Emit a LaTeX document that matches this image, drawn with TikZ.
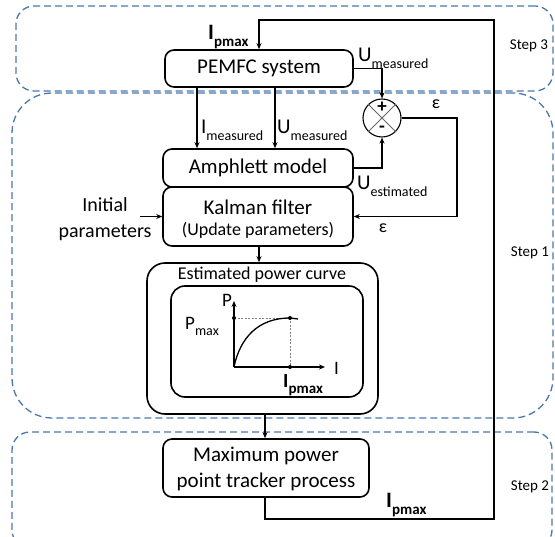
\documentclass[tikz,border=0pt]{standalone}
\usepackage{fontspec}
\setmainfont{Carlito}
\usetikzlibrary{arrows.meta}
\definecolor{stepblue}{HTML}{4A78AC}
\newcommand\subt[1]{\raisebox{-0.3em}{\fontsize{14}{14}\selectfont #1}}
\newcommand\subtb[1]{\raisebox{-0.3em}{\fontsize{15}{15}\selectfont\bfseries #1}}
\begin{document}
\begin{tikzpicture}[x=1pt,y=-1pt,
  blk/.style={draw, line width=1.6pt, rounded corners=9pt, inner sep=0pt},
  stepbox/.style={draw=stepblue, line width=1.3pt, dash pattern=on 7pt off 4pt, inner sep=0pt},
  conn/.style={line width=1.4pt},
  arr/.style={conn, -{Stealth[length=6pt,width=5pt]}},
  big/.style={font=\fontsize{21}{24}\selectfont, inner sep=0pt},
  mid/.style={font=\fontsize{18}{21}\selectfont, inner sep=0pt},
  chartlbl/.style={font=\fontsize{19}{21}\selectfont, inner sep=0pt},
  steplbl/.style={font=\fontsize{15}{18}\selectfont, inner sep=0pt},
  sgn/.style={font=\bfseries\fontsize{19}{19}\selectfont, inner sep=0pt},
  dot/.style={circle, fill, inner sep=0pt, minimum size=4pt},
]
\clip (0,0) rectangle (555,537);
\useasboundingbox (0,0) rectangle (555,537);

% step boxes
\node[stepbox, rounded corners=18pt, minimum width=537pt, minimum height=85pt] (s3) at (284.5,48.5) {};
\node[stepbox, rounded corners=40pt, minimum width=541pt, minimum height=325pt] (s1) at (282.5,255.5) {};
\node[stepbox, rounded corners=18pt, minimum width=540pt, minimum height=116pt] (s2) at (282,490) {};
\node[steplbl] (s3l) at (529,46) {Step 3};
\node[steplbl] (s1l) at (530,253) {Step 1};
\node[steplbl] (s2l) at (530,487) {Step 2};

% blocks
\node[blk, minimum width=188pt, minimum height=37pt, big] (pemfc) at (259,68.5) {PEMFC system};
\node[blk, minimum width=190pt, minimum height=38pt, big] (amph) at (258,168) {Amphlett model};
\node[blk, minimum width=190pt, minimum height=59pt] (kal) at (258,216.5) {};
\node[big] (kalt1) at (258,207) {Kalman filter};
\node[mid] (kalt2) at (258,230) {(Update parameters)};

\node[blk, rounded corners=18pt, minimum width=231pt, minimum height=151pt] (est) at (262.5,338.5) {};
\node[blk, rounded corners=14pt, minimum width=192pt, minimum height=111pt] (inner) at (267,341.5) {};
\node[mid] (estt) at (262,275) {Estimated power curve};

\node[blk, minimum width=206pt, minimum height=58pt] (mppt) at (266,468) {};
\node[big] (mppt1) at (266,456) {Maximum power};
\node[big] (mppt2) at (266,482) {point tracker process};

% summing junction
\node[circle, draw, line width=1.1pt, minimum size=38pt, inner sep=0pt] (sum) at (382,118) {};
\draw[line width=0.8pt, gray!80!black] (sum.north west) -- (sum.south east) (sum.north east) -- (sum.south west);
\node[sgn] (plus) at (382,107) {+};
\node[sgn] (minus) at (382,129.5) {-};

% coordinates
\coordinate (x197) at (197,0);
\coordinate (x275) at (275,0);
\coordinate (x259) at (259,0);
\coordinate (x265) at (265,0);
\coordinate (c1) at (494,519);
\coordinate (c2) at (494,20);
\coordinate (c3) at (457,216.5);
\coordinate (ini) at (140,216.5);

% connectors
\draw[arr] (x197 |- pemfc.south) -- (x197 |- amph.north);
\draw[arr] (x275 |- pemfc.south) -- (x275 |- amph.north);
\draw[arr] (pemfc.east) -| (sum.north);
\draw[arr] (amph.east) -| (sum.south);
\draw[arr] (sum.east) -| (c3) -- (kal.east);
\draw[arr] (ini) -- (kal.west);
\draw[arr] (x259 |- kal.south) -- (x259 |- est.north);
\draw[arr] (x265 |- est.south) -- (x265 |- mppt.north);
\draw[arr] (x265 |- mppt.south) |- (c1) -- (c2) -| (pemfc.north);

% labels
\node[big, anchor=base west] (lim) at (201,134) {I\subt{measured}};
\node[big, anchor=base west] (lum) at (277,134) {U\subt{measured}};
\node[big, anchor=base west] (lum2) at (358,62) {U\subt{measured}};
\node[big, anchor=base west] (lue) at (357,190) {U\subt{estimated}};
\node[mid] (eps1) at (436,104) {ε};
\node[mid] (eps2) at (383,228) {ε};
\node[big, anchor=base west, font=\fontsize{22}{24}\selectfont\bfseries] (ip1) at (208,40) {I\subtb{pmax}};
\node[big, anchor=base west, font=\fontsize{22}{24}\selectfont\bfseries] (ip2) at (386,508) {I\subtb{pmax}};
\node[big, font=\fontsize{20}{24}\selectfont] (init1) at (105,205) {Initial};
\node[big, font=\fontsize{20}{24}\selectfont] (init2) at (105,233) {parameters};

% chart
\coordinate (O) at (234,367);
\coordinate (ytop) at (234,301);
\coordinate (xend) at (325,367);
\coordinate (pm) at (290,318);
\coordinate (pmy) at (234,318);
\coordinate (pmx) at (290,367);
\coordinate (cend) at (298,319);
\draw[gray, line width=0.7pt, dash pattern=on 2pt off 1.5pt] (pmy) -- (pm) -- (pmx);
\draw[line width=1.4pt, -{Stealth[length=6pt,width=5pt]}] (O) -- (ytop);
\draw[line width=1.4pt, -{Stealth[length=6pt,width=5pt]}] (O) -- (xend);
\draw[line width=1.3pt] (O) .. controls (240,338) and (258,318) .. (pm) -- (cend);
\node[dot] (d1) at (pmy) {};
\node[dot] (d2) at (pm) {};
\node[dot] (d3) at (pmx) {};
\node[chartlbl, anchor=base] (lp) at (227,307) {P};
\node[chartlbl, anchor=base west] (lpmax) at (185,330) {P\subt{max}};
\node[chartlbl, anchor=base west] (li) at (334,375) {I};
\node[chartlbl, anchor=base west, font=\fontsize{20}{21}\selectfont\bfseries] (lip) at (283,388) {I\subtb{pmax}};
\end{tikzpicture}
\end{document}
